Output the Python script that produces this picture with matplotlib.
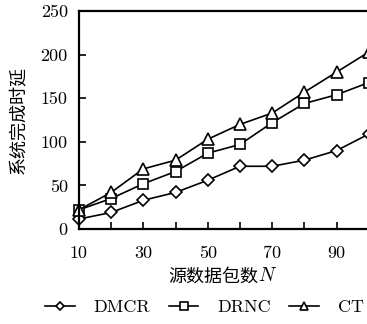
import matplotlib
matplotlib.use("Agg")
import matplotlib.pyplot as plt

plt.rcParams['font.family'] = ['cmr10', 'Noto Sans CJK SC']
plt.rcParams['axes.formatter.use_mathtext'] = False

N = [10, 20, 30, 40, 50, 60, 70, 80, 90, 100]
dmcr = [11.5, 19, 33, 42, 56, 72, 72, 79, 90, 109]
drnc = [22, 35, 52, 66, 87, 97, 122, 144, 154, 168]
ct = [22, 42, 69, 79, 103, 120, 133, 157, 180, 203]

fig = plt.figure(figsize=(3.67, 3.24), dpi=100)
ax = fig.add_axes([0.215, 0.293, 0.79, 0.673])

kw = dict(color='black', lw=1.2, markerfacecolor='white',
          markeredgecolor='black', markeredgewidth=1.2, clip_on=False)
ax.plot(N, dmcr, marker='D', markersize=6, label='DMCR', **kw)
ax.plot(N, drnc, marker='s', markersize=7.5, label='DRNC', **kw)
ax.plot(N, ct, marker='^', markersize=8, label='CT', **kw)

ax.set_xlim(10, 100)
ax.set_ylim(0, 250)
ax.set_xticks(N)
ax.set_xticklabels(['10', '', '30', '', '50', '', '70', '', '90', ''])
ax.set_yticks([0, 50, 100, 150, 200, 250])
ax.tick_params(direction='in', length=5, width=1.2, labelsize=13,
               top=False, right=False)
ax.tick_params(axis='x', pad=12)
ax.tick_params(axis='y', pad=8)
for s in ax.spines.values():
    s.set_linewidth(1.6)
ax.spines['right'].set_visible(False)

# x label: Chinese text + italic N
fig.text(0.703, 0.145, '源数据包数', fontsize=13, ha='right', va='center',
         family='Noto Sans CJK SC')
fig.text(0.705, 0.147, 'N', fontsize=14, ha='left', va='center',
         family='cmmi10')
ax.set_ylabel('系统完成时延', fontsize=13, labelpad=10)

fig.legend(loc='center', bbox_to_anchor=(0.557, 0.052), ncol=3,
           frameon=False, fontsize=13, handlelength=1.66, columnspacing=1.0,
           handletextpad=1.05, markerscale=0.7, borderpad=0, borderaxespad=0)

fig.savefig('out.png', dpi=100)
